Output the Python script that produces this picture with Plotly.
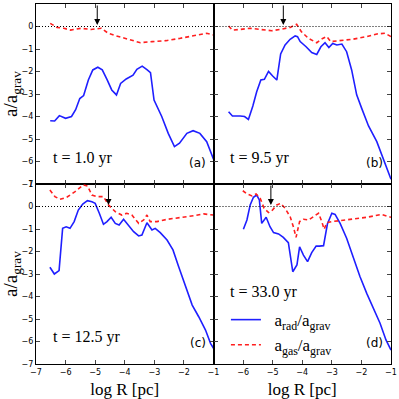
import plotly.graph_objects as go
from plotly.subplots import make_subplots

# panel (a), t = 1.0 yr
r_rad_a = [-6.52, -6.37, -6.21, -6.0, -5.8, -5.66, -5.52, -5.39, -5.23, -5.08, -4.91, -4.76, -4.59, -4.44,
           -4.28, -4.14, -3.95, -3.72, -3.59, -3.41, -3.24, -3.13, -3.01, -2.75, -2.53, -2.32, -2.15, -1.9,
           -1.69, -1.46, -1.23, -1.0]
rad_a = [-4.19, -4.2, -3.96, -4.08, -4.0, -3.7, -3.2, -3.07, -2.38, -1.93, -1.81, -1.93, -2.38, -2.82,
         -3.04, -2.53, -2.33, -2.16, -1.9, -1.76, -1.93, -2.05, -3.27, -4.0, -4.75, -5.34, -5.19, -4.75,
         -4.63, -4.75, -5.12, -5.9]
r_gas_a = [-6.52, -6.29, -6.06, -5.83, -5.48, -5.14, -4.79, -4.56, -4.28, -3.87, -3.47, -3.07, -2.61,
           -2.15, -1.69, -1.23, -1.0]
gas_a = [0.14, -0.04, -0.08, -0.16, -0.08, -0.13, -0.08, -0.3, -0.42, -0.57, -0.72, -0.67, -0.63,
         -0.53, -0.42, -0.3, -0.38]

# panel (b), t = 9.5 yr
r_rad_b = [-6.49, -6.36, -6.1, -5.95, -5.82, -5.67, -5.54, -5.4, -5.28, -5.14, -5.0, -4.86, -4.73, -4.58,
           -4.41, -4.24, -4.16, -4.07, -3.87, -3.68, -3.51, -3.37, -3.23, -3.1, -2.97, -2.83, -2.66, -2.5,
           -2.33, -2.16, -1.99, -1.76, -1.48, -1.26, -1.0]
rad_b = [-3.79, -3.98, -3.98, -4.0, -4.13, -3.53, -2.9, -2.38, -2.35, -2.0, -2.2, -2.38, -1.22, -0.82,
         -0.57, -0.42, -0.45, -0.67, -0.9, -1.16, -1.24, -0.9, -0.72, -0.93, -0.75, -0.82, -0.78, -1.12,
         -1.93, -3.04, -3.64, -4.42, -5.12, -5.9, -6.79]
r_gas_b = [-6.49, -6.36, -6.1, -5.76, -5.42, -5.03, -4.75, -4.41, -4.19, -4.03, -3.79, -3.51, -3.31,
           -3.17, -3.04, -2.72, -2.27, -1.82, -1.48, -1.2, -1.0]
gas_b = [0.02, -0.16, -0.13, -0.08, -0.13, -0.19, -0.13, -0.04, 0.1, -0.23, -0.53, -0.72, -0.53,
         -0.45, -0.67, -0.63, -0.56, -0.45, -0.33, -0.3, -0.45]

# panel (c), t = 12.5 yr
r_rad_c = [-6.53, -6.38, -6.22, -6.1, -5.98, -5.85, -5.71, -5.57, -5.42, -5.26, -5.11, -5.0, -4.86, -4.72,
           -4.6, -4.46, -4.32, -4.19, -4.04, -3.87, -3.7, -3.53, -3.42, -3.25, -3.08, -2.97, -2.8, -2.57,
           -2.37, -2.18, -1.95, -1.72, -1.5, -1.27, -1.1, -1.0]
rad_c = [-2.7, -3.0, -2.85, -0.97, -0.9, -0.97, -0.67, -0.16, 0.11, 0.26, 0.21, 0.14, -0.3, -0.79,
         -0.67, -0.48, -0.75, -0.82, -0.57, -0.87, -1.12, -1.31, -1.27, -0.72, -1.04, -0.97, -1.16, -1.49,
         -1.93, -2.67, -3.56, -4.38, -4.9, -5.49, -6.08, -6.3]
r_gas_c = [-6.53, -6.36, -6.19, -5.96, -5.68, -5.4, -5.26, -5.11, -4.94, -4.72, -4.55, -4.32, -4.1,
           -3.93, -3.76, -3.53, -3.36, -3.25, -3.14, -2.91, -2.57, -2.12, -1.67, -1.33, -1.0]
gas_c = [0.73, 0.44, 0.32, 0.41, 0.66, 0.96, 0.91, 0.51, 0.44, 0.44, 0.07, -0.23, -0.38,
         -0.3, -0.38, -0.75, -0.6, -0.38, -0.67, -0.67, -0.57, -0.5, -0.41, -0.33, -0.38]

# panel (d), t = 33.0 yr
r_rad_d = [-5.99, -5.87, -5.76, -5.65, -5.54, -5.45, -5.37, -5.22, -5.09, -4.97, -4.8, -4.64, -4.47,
           -4.32, -4.18, -4.09, -3.96, -3.82, -3.68, -3.53, -3.42, -3.28, -3.15, -3.0, -2.89, -2.72, -2.5,
           -2.27, -2.05, -1.82, -1.6, -1.37, -1.17, -1.0]
rad_d = [-1.01, -0.6, 0.07, 0.41, 0.51, 0.29, -0.75, -0.48, -0.9, -1.16, -1.22, -1.37, -1.61,
         -2.9, -2.6, -1.79, -2.16, -2.45, -2.05, -1.76, -1.76, -1.74, -0.78, -0.3, -0.35, -0.75, -1.41,
         -2.3, -3.11, -3.86, -4.53, -5.19, -5.93, -6.38]
r_gas_d = [-6.01, -5.87, -5.7, -5.56, -5.42, -5.29, -5.14, -5.03, -4.86, -4.73, -4.58, -4.41, -4.3,
           -4.21, -4.09, -3.96, -3.79, -3.62, -3.45, -3.34, -3.26, -3.17, -3.0, -2.72, -2.27, -1.82,
           -1.32, -1.0]
gas_d = [0.7, 0.56, 0.47, 0.56, 0.36, -0.08, -0.27, -0.19, 0.07, 0.14, -0.08, -0.45, -0.9,
         -1.37, -0.67, -0.57, -0.6, -0.45, -0.3, -0.67, -1.01, -0.72, -0.67, -0.63, -0.57, -0.48,
         -0.35, -0.48]

times = ["t = 1.0 yr", "t = 9.5 yr", "t = 12.5 yr", "t = 33.0 yr"]
panel_tags = ["(a)", "(b)", "(c)", "(d)"]
arrow_x = [-4.93, -4.64, -4.55, -5.06]
time_y = [-5.84, -5.84, -5.8, -3.82]

panels = [
    (r_rad_a, rad_a, r_gas_a, gas_a),
    (r_rad_b, rad_b, r_gas_b, gas_b),
    (r_rad_c, rad_c, r_gas_c, gas_c),
    (r_rad_d, rad_d, r_gas_d, gas_d),
]
cells = [(1, 1), (1, 2), (2, 1), (2, 2)]

SERIF = "Liberation Serif"
SANS = "DejaVu Sans"

fig = make_subplots(rows=2, cols=2, shared_xaxes=True, shared_yaxes=True,
                    horizontal_spacing=0, vertical_spacing=0)

for i, (cell, p) in enumerate(zip(cells, panels)):
    row, col = cell
    last = (i == 3)
    fig.add_trace(go.Scatter(x=p[0], y=p[1], mode="lines",
                             name="&nbsp;&nbsp;a<sub>rad</sub>/a<sub>grav</sub>",
                             line=dict(color="#1f1fff", width=1.6), showlegend=last),
                  row=row, col=col)
    fig.add_trace(go.Scatter(x=p[2], y=p[3], mode="lines",
                             name="&nbsp;&nbsp;a<sub>gas</sub>/a<sub>grav</sub>",
                             line=dict(color="#ff1f1f", width=1.6, dash="4px,3px"), showlegend=last),
                  row=row, col=col)

    # zero line
    fig.add_hline(y=0, line=dict(color="black", width=1, dash="1px,2px"), row=row, col=col)

    xr = "x" if i == 0 else "x" + str(i + 1)
    yr = "y" if i == 0 else "y" + str(i + 1)
    fig.add_annotation(x=arrow_x[i], y=0.07, ax=arrow_x[i], ay=1.0, xref=xr, yref=yr,
                       axref=xr, ayref=yr, text="", showarrow=True, arrowhead=2,
                       arrowsize=1.2, arrowwidth=1, arrowcolor="black")
    fig.add_annotation(x=-6.5, y=time_y[i], xref=xr, yref=yr, text=times[i], showarrow=False,
                       xanchor="left", yanchor="middle", font=dict(family=SERIF, size=16, color="black"))
    fig.add_annotation(x=-1.2, y=-6.07, xref=xr, yref=yr, text=panel_tags[i], showarrow=False,
                       xanchor="right", yanchor="middle", font=dict(family=SANS, size=12, color="black"))

fig.update_xaxes(range=[-7, -1], tickvals=[-7, -6, -5, -4, -3, -2, -1], ticks="inside", ticklen=4,
                 showline=True, linecolor="black", linewidth=1, mirror="ticks", showgrid=False,
                 zeroline=False, tickfont=dict(family=SANS, size=8, color="black"))
fig.update_xaxes(tickvals=[-6, -5, -4, -3, -2, -1], row=2, col=2)
fig.update_yaxes(range=[-7, 1], tickvals=[1, 0, -1, -2, -3, -4, -5, -6, -7], ticks="inside", ticklen=4,
                 showline=True, linecolor="black", linewidth=1, mirror="ticks", showgrid=False,
                 zeroline=False, tickfont=dict(family=SANS, size=8, color="black"))

fig.update_yaxes(title=dict(text="a/a<sub>grav</sub>", font=dict(family=SERIF, size=19, color="black"),
                            standoff=4), col=1)
fig.update_xaxes(title=dict(text="log R [pc]", font=dict(family=SERIF, size=17, color="black"),
                            standoff=8), row=2)

fig.update_layout(
    width=399, height=399,
    margin=dict(l=36, r=8, t=4, b=35, autoexpand=False),
    paper_bgcolor="white", plot_bgcolor="white",
    legend=dict(x=0.535, y=0.172, xanchor="left", yanchor="top", bgcolor="rgba(0,0,0,0)",
                font=dict(family=SERIF, size=17, color="black"), itemwidth=30, tracegroupgap=0),
)

# drop the browser's default 8px body margin so the figure sits at the window corner
fig.write_html("out.html", config={"displayModeBar": False},
               post_script="document.body.style.margin = '0';")
